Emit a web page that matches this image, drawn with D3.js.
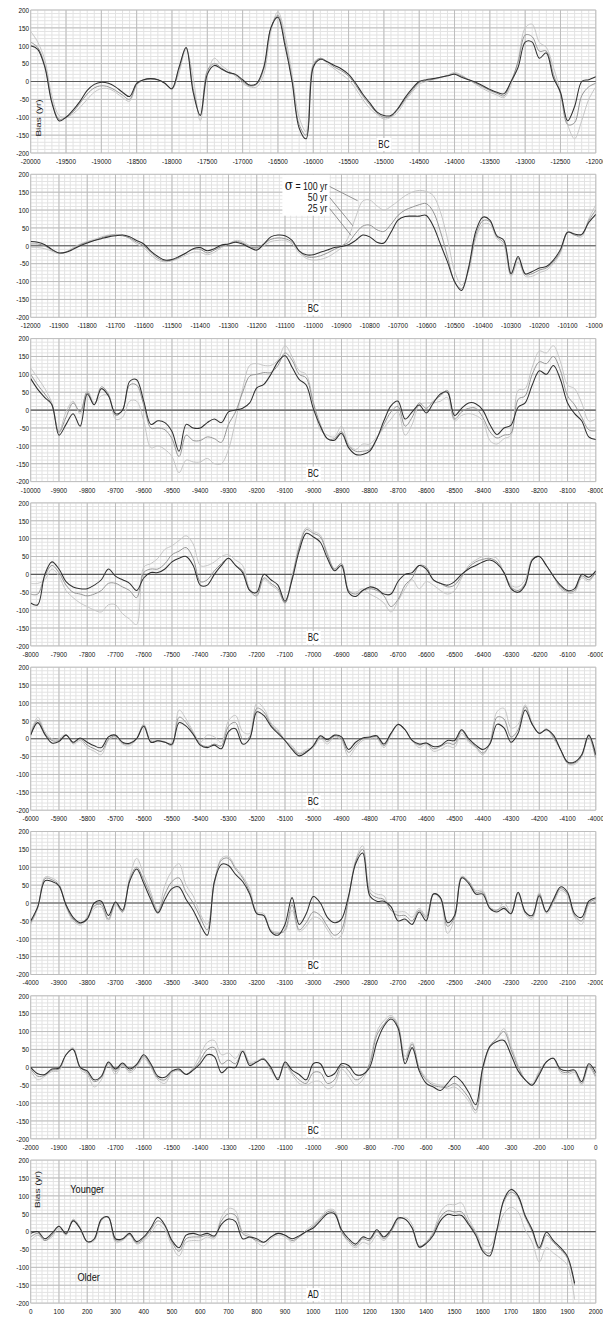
<!DOCTYPE html>
<html>
<head>
<meta charset="utf-8">
<script src="https://cdn.jsdelivr.net/npm/d3@7"></script>
<style>
body { margin: 0; background: #fff; }
svg { display: block; font-family: "Liberation Sans", Arial, sans-serif; }
</style>
</head>
<body>
<div id="chart"></div>
<script>
// bias curves (yr), one value per sample step, three smoothing widths
var panelStart = [-20000, -12000, -10000, -8000, -6000, -4000, -2000, 0];
var panelEnd = [-12000, -10000, -8000, -6000, -4000, -2000, 0, 2000];
var sampleStep = [100, 25, 25, 25, 25, 25, 25, 25];
var majorStep = [500, 100, 100, 100, 100, 100, 100, 100];
var minorStep = [100, 20, 20, 20, 20, 20, 20, 20];
var eraLabel = ["BC", "BC", "BC", "BC", "BC", "BC", "BC", "AD"];
var eraAt = [-15000, -11000, -9000, -7000, -5000, -3000, -1000, 1000];
var yTicks = [-200, -150, -100, -50, 0, 50, 100, 150, 200];

var p1_25yr = [100, 90, 40, -60, -110, -100, -80, -55, -25, -8,
  -2, -5, -15, -30, -42, -5, 5, 8, 5, -5,
  -20, 40, 95, -30, -95, 20, 45, 35, 25, 20,
  5, -10, -5, 40, 150, 180, 100, 0, -130, -160,
  40, 62, 55, 45, 35, 20, -5, -35, -60, -85,
  -95, -95, -75, -45, -20, 0, 5, 8, 12, 16,
  20, 12, 5, -2, -12, -22, -30, -34, 0, 40,
  110, 110, 65, 80, 10, -30, -110, -70, 0, 5,
  13];
var p1_50yr = [110, 95, 45, -55, -105, -100, -85, -60, -35, -18,
  -12, -15, -25, -38, -50, -8, 5, 8, 5, -5,
  -20, 35, 95, -20, -95, 30, 50, 38, 25, 18,
  0, -12, -8, 35, 150, 185, 110, 5, -120, -150,
  45, 65, 55, 40, 30, 15, -10, -40, -65, -88,
  -100, -98, -78, -50, -25, -3, 3, 7, 12, 16,
  22, 15, 5, -5, -15, -25, -33, -40, 0, 55,
  130, 125, 85, 85, 20, -35, -120, -115, -40, -15,
  -5];
var p1_100yr = [140, 110, 60, -40, -95, -100, -90, -72, -50, -30,
  -20, -20, -30, -45, -55, -10, 3, 6, 4, -6,
  -22, 25, 90, 10, -110, 20, 65, 45, 30, 15,
  -5, -15, -15, 20, 140, 195, 130, 20, -100, -140,
  50, 65, 50, 35, 20, 5, -20, -50, -75, -92,
  -105, -100, -85, -55, -30, -8, 0, 5, 10, 18,
  25, 18, 5, -8, -20, -30, -38, -45, -10, 60,
  150, 160, 110, 95, 40, -30, -120, -160, -110, -50,
  -15];

var p2_25yr = [12, 10, 3, -10, -20, -18, -10, 0, 8, 15,
  20, 25, 28, 30, 25, 15, 5, -15, -30, -40,
  -38, -30, -20, -8, -5, -14, -8, 2, 5, 10,
  5, -5, -12, 5, 25, 30, 28, 15, -14, -25,
  -25, -18, -12, -5, -2, 3, 15, 30, 25, 10,
  8, 38, 72, 82, 83, 83, 85, 55, 5, -45,
  -100, -125, -60, 40, 80, 72, 28, 15, -78, -30,
  -78, -72, -62, -58, -40, -10, 38, 33, 32, 65,
  88];
var p2_50yr = [5, 5, 0, -12, -20, -17, -8, 3, 10, 15,
  22, 28, 30, 28, 22, 10, 0, -18, -35, -42,
  -40, -32, -20, -10, -10, -20, -12, -2, 5, 12,
  8, -3, -5, 5, 18, 22, 20, 10, -15, -30,
  -32, -28, -20, -10, 0, 10, 35, 55, 58, 45,
  40, 60, 85, 100, 108, 115, 118, 95, 40, -30,
  -100, -120, -65, 30, 70, 68, 25, 8, -80, -35,
  -80, -78, -68, -62, -45, -15, 38, 30, 30, 70,
  100];
var p2_100yr = [-5, -5, -8, -15, -22, -18, -5, 5, 12, 18,
  25, 30, 32, 30, 20, 5, -5, -25, -40, -45,
  -42, -35, -25, -18, -18, -25, -18, -5, 5, 15,
  12, 0, -8, 0, 12, 15, 15, 5, -20, -35,
  -40, -38, -32, -20, -5, 25, 80, 125, 128, 112,
  100, 110, 125, 140, 150, 155, 152, 140, 95, 20,
  -70, -110, -70, 20, 60, 60, 20, 0, -85, -45,
  -85, -85, -75, -68, -50, -20, 40, 30, 25, 75,
  115];

var p3_25yr = [88, 58, 35, 15, -70, -40, -10, -45, 45, 15,
  60, 40, -10, 0, 80, 85, 25, -40, -30, -35,
  -60, -115, -40, -50, -50, -35, -25, -35, -5, 0,
  5, 20, 62, 72, 100, 135, 152, 120, 86, 70,
  5, -45, -80, -84, -65, -105, -124, -124, -115, -80,
  -30, 12, 25, -25, -5, 14, -8, 20, 45, 50,
  -15, 5, 20, 18, 0, -40, -68, -50, -42, 8,
  20, 70, 110, 100, 125, 85, 20, -10, -30, -75,
  -82];
var p3_50yr = [100, 70, 45, 15, -62, -20, 20, -5, 50, 15,
  65, 45, -15, 0, 70, 70, 15, -50, -50, -55,
  -80, -130, -70, -85, -85, -75, -80, -90, -40, -5,
  50, 95, 100, 105, 105, 125, 160, 140, 100, 90,
  20, -40, -80, -80, -60, -100, -115, -115, -110, -80,
  -40, -5, 10, -45, -20, 20, 5, 25, 40, 55,
  -25, -5, 5, 5, -20, -60, -78, -70, -65, 30,
  40, 100, 135, 130, 150, 110, 40, 15, -20, -55,
  -58];
var p3_100yr = [118, 90, 60, 20, -60, -5, 25, -10, 55, 20,
  40, 40, -25, -20, 25, 25, -30, -105, -100, -110,
  -130, -175, -140, -145, -145, -135, -150, -150, -110, -30,
  60, 125, 130, 125, 125, 140, 180, 150, 110, 100,
  25, -55, -70, -75, -45, -95, -110, -95, -95, -75,
  -50, -25, -5, -70, -40, 15, 20, 20, 25, 35,
  -30, -15, -10, -15, -30, -85, -95, -80, -70, 55,
  60, 120, 165, 160, 180, 135, 70, 60, 20, -30,
  -25];

var p4_25yr = [-80, -85, 0, 35, 15, -20, -35, -40, -40, -30,
  -15, 15, -5, -15, -25, -45, -10, 5, 5, 15,
  35, 45, 50, 25, -30, -30, 0, 25, 45, 25,
  5, -45, -50, 0, -15, -30, -75, -15, 65, 115,
  105, 90, 45, 10, 25, -50, -62, -45, -35, -40,
  -55, -55, -20, 0, 5, 25, 15, -15, -25, -30,
  -20, 0, 15, 25, 35, 40, 30, 5, -40, -50,
  -30, 40, 50, 25, -5, -30, -45, -40, 0, -8,
  10];
var p4_50yr = [-55, -55, -5, 25, 5, -30, -50, -55, -60, -55,
  -45, -25, -25, -35, -45, -65, 5, 15, 15, 30,
  55, 65, 75, 45, -20, -15, 10, 30, 45, 25,
  10, -45, -60, -10, -25, -40, -80, -10, 75, 125,
  115, 105, 55, 15, 30, -45, -55, -45, -40, -45,
  -60, -90, -70, -30, -10, 25, 20, -15, -25, -35,
  -30, -5, 20, 35, 42, 45, 35, 5, -35, -45,
  -25, 40, 50, 25, -5, -35, -48, -45, -5, -15,
  5];
var p4_100yr = [-25, -25, -15, 15, -5, -45, -65, -80, -90, -100,
  -105, -85, -85, -110, -125, -140, 20, 30, 45, 70,
  80, 95, 108, 85, 25, 25, 35, 50, 55, 40,
  25, -40, -55, -15, -30, -45, -80, -5, 80, 130,
  120, 110, 60, 15, 30, -45, -50, -40, -55, -65,
  -80, -105, -75, -40, -15, -40, -20, -30, -45, -55,
  -45, -10, 25, 40, 50, 50, 45, 5, -30, -35,
  -15, 45, 50, 25, -5, -40, -52, -50, -10, -20,
  10];

var p5_25yr = [10, 45, 12, -12, -8, 10, -10, 2, -10, -20,
  -25, 5, 10, -10, -13, 0, 35, -10, -6, -10,
  -15, 45, 35, 12, -18, -25, -18, -28, 20, 28,
  -15, 0, 75, 65, 35, 15, -5, -30, -48, -38,
  -20, 8, -3, 10, 5, -30, -10, 2, 5, 8,
  -15, 15, 40, 25, -5, -15, -12, -22, -20, -5,
  -5, 25, 0, -18, -30, -15, 40, 30, -10, 15,
  80, 40, 15, 25, 10, -30, -65, -65, -45, 10,
  -45];
var p5_50yr = [12, 52, 15, -5, -5, 10, -12, 0, -18, -28,
  -35, -2, 8, -12, -15, 0, 38, -8, -6, -10,
  -18, 60, 45, 15, -15, -22, -15, -20, 35, 45,
  0, 5, 85, 75, 40, 20, -5, -25, -43, -35,
  -22, 5, -8, 8, 0, -38, -18, 0, 3, 5,
  -20, 15, 40, 25, -5, -18, -12, -28, -22, -12,
  -15, 22, -5, -22, -40, -15, 60, 55, 5, 25,
  90, 40, 15, 27, 5, -30, -68, -68, -48, 8,
  -55];
var p5_100yr = [15, 60, 20, 0, 0, 12, -15, -5, -25, -35,
  -45, -5, 5, -15, -20, 0, 40, -5, -5, -8,
  -20, 80, 55, 20, -10, 10, 5, -10, 50, 65,
  20, 15, 100, 85, 45, 25, -5, -20, -40, -30,
  -25, 0, -15, 5, -5, -50, -25, -5, 0, 0,
  -25, 10, 40, 25, -5, -25, -15, -35, -30, -20,
  -25, 15, -10, -25, -45, -10, 75, 85, 30, 40,
  95, 45, 15, 28, 0, -30, -70, -72, -50, 5,
  -60];

var p6_25yr = [-50, -10, 62, 60, 48, -5, -40, -55, -45, 0,
  5, -35, 3, -20, 60, 95, 55, 10, -28, 10,
  40, 45, 10, -20, -60, -90, 60, 108, 105, 80,
  60, 25, -30, -35, -80, -90, -60, 15, -60, -30,
  18, 0, -40, -55, -45, 20, 110, 140, 20, 5,
  5, -10, -50, -45, -60, -25, -50, 25, 15, -55,
  -35, 70, 55, 25, 25, -15, -25, -15, -30, 30,
  -25, -35, 20, -25, 10, 45, 30, -30, -40, 5,
  15];
var p6_50yr = [-55, -12, 68, 65, 50, -8, -45, -58, -40, -8,
  -5, -45, 0, -25, 65, 100, 65, 20, -25, 25,
  60, 70, 30, 0, -40, -75, 60, 120, 125, 95,
  70, 30, -30, -35, -78, -85, -75, -5, -75, -55,
  -25, -35, -65, -90, -75, 15, 115, 150, 30, 15,
  10, -20, -35, -35, -50, -20, -40, 25, 15, -65,
  -40, 72, 60, 30, 30, -15, -20, -10, -30, 30,
  -25, -40, 25, -25, 5, 40, 25, -35, -50, 0,
  10];
var p6_100yr = [-60, -15, 72, 70, 55, -10, -50, -62, -45, -15,
  -12, -50, -5, -25, 70, 125, 80, 30, -20, 50,
  90, 110, 50, 20, -30, -60, 50, 125, 130, 100,
  75, 40, -25, -30, -75, -82, -80, -20, -80, -65,
  -40, -45, -75, -100, -90, 10, 120, 160, 40, 25,
  20, -20, -25, -25, -40, -15, -35, 25, 10, -85,
  -45, 75, 60, 35, 35, -10, -20, 0, -25, 25,
  -30, -45, 30, -30, 0, 35, 20, -40, -60, -5,
  5];

var p7_25yr = [0, -18, -20, -5, -2, 35, 50, 0, -10, -35,
  -25, 15, -5, 12, -5, 8, 35, 10, -25, -28,
  -10, -5, -20, -8, 10, 35, 30, -15, 0, 0,
  45, 5, 15, 22, 0, -35, 15, -8, -20, -35,
  10, 10, -25, -18, 10, 5, -20, -20, 0, 70,
  115, 135, 110, 10, 55, -10, -45, -55, -65, -45,
  -25, -40, -70, -105, 0, 58, 72, 75, 35, -10,
  -35, -50, -20, 15, 25, -5, -10, -8, -40, 10,
  -15];
var p7_50yr = [-5, -25, -22, -8, -5, 35, 52, 0, -15, -40,
  -28, 12, -12, 8, -10, 5, 30, 5, -30, -35,
  -12, -8, -20, -5, 20, 50, 55, 10, 20, 10,
  45, 10, 15, 25, -5, -30, 10, -15, -35, -45,
  -15, -15, -45, -35, 5, -10, -35, -25, 10, 90,
  120, 140, 115, 20, 65, -5, -35, -50, -55, -55,
  -45, -60, -85, -120, -5, 60, 80, 100, 50, 0,
  -35, -50, -15, 15, 25, -10, -15, -10, -45, 5,
  -25];
var p7_100yr = [-10, -35, -25, -12, -10, 35, 55, -5, -20, -55,
  -35, 8, -20, 5, -15, 0, 25, 0, -35, -45,
  -15, -10, -20, 0, 35, 70, 75, 35, 40, 25,
  50, 15, 18, 25, -10, -30, 5, -20, -45, -50,
  -40, -40, -60, -50, -5, -25, -50, -35, 15, 100,
  130, 145, 120, 30, 70, 0, -30, -45, -50, -60,
  -55, -70, -95, -128, -10, 55, 80, 108, 60, 5,
  -35, -45, -10, 15, 25, -15, -20, -15, -50, 0,
  -30];

var p8_25yr = [-5, 0, -20, -5, 15, -5, 30, 8, -28, -20,
  35, 40, -20, -20, -5, -28, -15, 10, 40, 18,
  -25, -45, -10, -5, -10, -5, -12, 20, 35, 28,
  -20, -15, -20, -30, -15, -5, -10, -20, -12, 0,
  10, 30, 50, 50, 5, -20, -35, -15, -20, 5,
  -15, 5, 38, 35, 10, -43, -33, -10, 30, 48,
  45, 45, 20, -10, -55, -68, 5, 90, 118, 100,
  45, 5, -45, -2, -25, -45, -70, -145];
var p8_50yr = [-15, -5, -25, -10, 15, -8, 32, 10, -28, -22,
  33, 40, -25, -22, -8, -32, -20, 5, 30, 15,
  -30, -55, -20, -15, -15, -10, -15, 30, 50, 45,
  -5, -15, -25, -30, -15, -5, -10, -25, -15, 0,
  15, 35, 55, 55, 0, -25, -40, -20, -25, 0,
  -20, 0, 35, 35, 10, -40, -30, -5, 40, 58,
  55, 55, 25, -5, -50, -60, 5, 85, 110, 95,
  40, 0, -50, -10, -30, -50, -75, -150];
var p8_100yr = [-25, -10, -25, -15, 10, -10, 35, 12, -30, -25,
  30, 42, -30, -25, -10, -35, -25, -5, 20, 5,
  -40, -68, -30, -25, -25, -15, -20, 40, 65, 58,
  0, -10, -30, -40, -20, -10, -15, -30, -15, 5,
  20, 40, 60, 60, 0, -30, -45, -30, -35, -10,
  -25, 0, 30, 40, 20, -45, -30, 0, 55, 75,
  75, 80, 35, 0, -35, -40, 0, 50, 68, 55,
  5, -30, -85, -45, -60, -75, -95, -190];

var series25 = [p1_25yr, p2_25yr, p3_25yr, p4_25yr, p5_25yr, p6_25yr, p7_25yr, p8_25yr];
var series50 = [p1_50yr, p2_50yr, p3_50yr, p4_50yr, p5_50yr, p6_50yr, p7_50yr, p8_50yr];
var series100 = [p1_100yr, p2_100yr, p3_100yr, p4_100yr, p5_100yr, p6_100yr, p7_100yr, p8_100yr];

// legend (panel 2): label anchor and the point on each curve it points to
var legendNames = ["100 yr", "50 yr", "25 yr"];
var legendAnchorYear = -10950;
var legendAnchorBias = [166, 135, 104];
var legendTargetYear = [-10843, -10860, -10866];
var legendTargetBias = [126, 56, 29];

// drawn wide, then squeezed to 603px like the original figure
var vbW = 754, vbH = 1322;
var left = 38.4, right = 745;
var panelTop = 81.5, panelGap = 164.3, halfH = 71.5;

var svg = d3.select("#chart").append("svg")
    .attr("width", 603)
    .attr("height", 1322)
    .attr("viewBox", "0 0 " + vbW + " " + vbH)
    .attr("preserveAspectRatio", "none");

svg.append("rect").attr("width", vbW).attr("height", vbH).attr("fill", "#fff");

function whiteBox(g, textSel, pad) {
    var b = textSel.node().getBBox();
    g.insert("rect", function() { return textSel.node(); })
        .attr("x", b.x - pad).attr("y", b.y - pad / 2)
        .attr("width", b.width + 2 * pad).attr("height", b.height + pad)
        .attr("fill", "#fff");
}

panelStart.forEach(function(start, i) {
    var end = panelEnd[i];
    var zero = panelTop + panelGap * i;
    var x = d3.scaleLinear().domain([start, end]).range([left, right]);
    var y = d3.scaleLinear().domain([-200, 200]).range([zero + halfH, zero - halfH]);

    var g = svg.append("g");

    // minor grid
    g.selectAll(".vminor").data(d3.range(start, end + 1, minorStep[i]))
        .enter().append("line")
        .attr("x1", function(d) { return x(d); }).attr("x2", function(d) { return x(d); })
        .attr("y1", y(200)).attr("y2", y(-200))
        .attr("stroke", "#e3e3e3").attr("stroke-width", 1)
        .attr("vector-effect", "non-scaling-stroke");
    g.selectAll(".hminor").data(d3.range(-200, 201, 10))
        .enter().append("line")
        .attr("x1", x(start)).attr("x2", x(end))
        .attr("y1", function(d) { return y(d); }).attr("y2", function(d) { return y(d); })
        .attr("stroke", "#e3e3e3").attr("stroke-width", 1)
        .attr("vector-effect", "non-scaling-stroke");

    // major grid
    var xTicks = d3.range(start, end + 1, majorStep[i]);
    g.selectAll(".vmajor").data(xTicks)
        .enter().append("line")
        .attr("x1", function(d) { return x(d); }).attr("x2", function(d) { return x(d); })
        .attr("y1", y(200)).attr("y2", y(-200))
        .attr("stroke", "#bdbdbd").attr("stroke-width", 1)
        .attr("vector-effect", "non-scaling-stroke");
    g.selectAll(".hmajor").data(yTicks)
        .enter().append("line")
        .attr("x1", x(start)).attr("x2", x(end))
        .attr("y1", function(d) { return y(d); }).attr("y2", function(d) { return y(d); })
        .attr("stroke", "#bdbdbd").attr("stroke-width", 1)
        .attr("vector-effect", "non-scaling-stroke");

    // zero line
    g.append("line")
        .attr("x1", x(start)).attr("x2", x(end))
        .attr("y1", y(0)).attr("y2", y(0))
        .attr("stroke", "#5a5a5a").attr("stroke-width", 1.1)
        .attr("vector-effect", "non-scaling-stroke");

    // tick labels
    g.selectAll(".ylab").data(yTicks)
        .enter().append("text")
        .attr("x", left - 2)
        .attr("y", function(d) { return y(d); })
        .attr("dy", "0.35em")
        .attr("text-anchor", "end")
        .attr("font-size", 8)
        .attr("fill", "#111")
        .text(function(d) { return d; });
    g.selectAll(".xlab").data(xTicks)
        .enter().append("text")
        .attr("x", function(d) { return x(d); })
        .attr("y", y(-200) + 11)
        .attr("text-anchor", "middle")
        .attr("font-size", 8)
        .attr("fill", "#111")
        .text(function(d) { return d; });

    // curves
    var clipId = "clip" + i;
    g.append("clipPath").attr("id", clipId)
        .append("rect")
        .attr("x", x(start)).attr("y", y(200))
        .attr("width", x(end) - x(start)).attr("height", y(-200) - y(200));

    var line = d3.line()
        .x(function(d, k) { return x(start + k * sampleStep[i]); })
        .y(function(d) { return y(d); })
        .curve(d3.curveCatmullRom.alpha(0.5));

    var curves = [
        { data: series100[i], color: "#c6c6c6", w: 1 },
        { data: series50[i], color: "#959595", w: 1 },
        { data: series25[i], color: "#303030", w: 1.05 }
    ];
    g.append("g").attr("clip-path", "url(#" + clipId + ")")
        .selectAll("path").data(curves)
        .enter().append("path")
        .attr("d", function(c) { return line(c.data); })
        .attr("fill", "none")
        .attr("stroke", function(c) { return c.color; })
        .attr("stroke-width", function(c) { return c.w; })
        .attr("stroke-linejoin", "round")
        .attr("vector-effect", "non-scaling-stroke");

    // era label
    var era = g.append("text")
        .attr("x", x(eraAt[i]))
        .attr("y", y(-176))
        .attr("dy", "0.35em")
        .attr("text-anchor", "middle")
        .attr("font-size", 10)
        .attr("fill", "#111")
        .text(eraLabel[i]);
    whiteBox(g, era, 2);

    if (i === 0 || i === 7) {
        var bx = i === 0 ? -19897 : 22;
        var by = i === 0 ? -102 : 118;
        var bias = g.append("text")
            .attr("transform", "translate(" + x(bx) + "," + y(by) + ") rotate(-90)")
            .attr("dy", "0.35em")
            .attr("text-anchor", "middle")
            .attr("font-size", 10)
            .attr("fill", "#222")
            .text("Bias (yr)");
        whiteBox(g, bias, 1);
    }

    if (i === 7) {
        g.append("text")
            .attr("x", x(200)).attr("y", y(120)).attr("dy", "0.35em")
            .attr("text-anchor", "middle").attr("font-size", 11.5).attr("fill", "#111")
            .text("Younger");
        g.append("text")
            .attr("x", x(205)).attr("y", y(-126)).attr("dy", "0.35em")
            .attr("text-anchor", "middle").attr("font-size", 11.5).attr("fill", "#111")
            .text("Older");
    }

    if (i === 1) {
        var lg = g.append("g");
        var bg = lg.append("rect").attr("fill", "#fff");
        var labels = lg.selectAll("text").data(legendNames)
            .enter().append("text")
            .attr("x", x(legendAnchorYear))
            .attr("y", function(d, k) { return y(legendAnchorBias[k]); })
            .attr("dy", "0.35em")
            .attr("text-anchor", "end")
            .attr("font-size", 11)
            .attr("fill", "#111");
        labels.each(function(d, k) {
            var t = d3.select(this);
            if (k === 0) {
                t.append("tspan").attr("font-size", 15).attr("font-family", "'DejaVu Serif', serif").text("\u03c3");
                t.append("tspan").text(" = " + d);
            } else {
                t.text(d);
            }
        });
        var b = lg.node().getBBox();
        bg.attr("x", b.x - 3).attr("y", b.y - 1).attr("width", b.width + 5).attr("height", b.height + 2);
        lg.selectAll("line").data(legendNames)
            .enter().append("line")
            .attr("x1", x(legendAnchorYear + 8))
            .attr("y1", function(d, k) { return y(legendAnchorBias[k]); })
            .attr("x2", function(d, k) { return x(legendTargetYear[k]); })
            .attr("y2", function(d, k) { return y(legendTargetBias[k]); })
            .attr("stroke", "#888").attr("stroke-width", 0.9)
            .attr("vector-effect", "non-scaling-stroke");
    }
});
</script>
</body>
</html>
